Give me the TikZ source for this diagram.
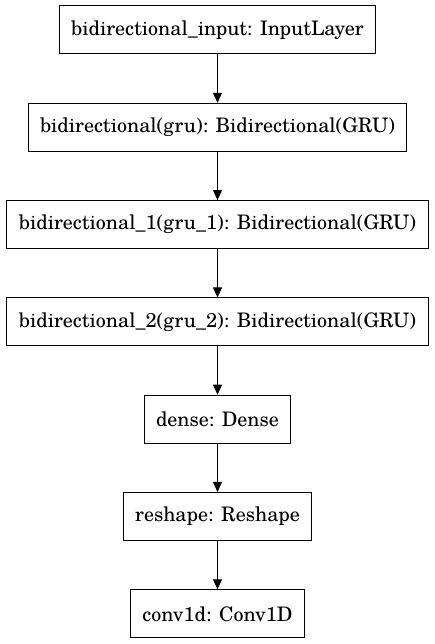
\documentclass[tikz,border=0pt]{standalone}
\usepackage{fontspec}
\setmainfont{TeX Gyre Schola}
\usetikzlibrary{positioning,arrows.meta}

\begin{document}
\begin{tikzpicture}[x=1pt,y=1pt,
    layer/.style={draw, line width=1pt, minimum height=48pt, inner xsep=12pt,
                  font=\fontsize{20}{24}\selectfont},
    flow/.style={line width=1pt, -{Triangle[length=10pt,width=9pt]}},
    node distance=48.3pt]
        \useasboundingbox (0,0) rectangle (435,644);

        % Layers
        \node[layer] (input) at (217.5,614) {bidirectional\_input: InputLayer};
        \node[layer, below=of input] (bi) {bidirectional(gru): Bidirectional(GRU)};
        \node[layer, below=of bi] (bione) {bidirectional\_1(gru\_1): Bidirectional(GRU)};
        \node[layer, below=of bione] (bitwo) {bidirectional\_2(gru\_2): Bidirectional(GRU)};
        \node[layer, below=of bitwo] (dense) {dense: Dense};
        \node[layer, below=of dense] (reshape) {reshape: Reshape};
        \node[layer, below=of reshape] (conv) {conv1d: Conv1D};

        % Arrows
        \draw[flow] (input) -- (bi);
        \draw[flow] (bi) -- (bione);
        \draw[flow] (bione) -- (bitwo);
        \draw[flow] (bitwo) -- (dense);
        \draw[flow] (dense) -- (reshape);
        \draw[flow] (reshape) -- (conv);
    \end{tikzpicture}
\end{document}
